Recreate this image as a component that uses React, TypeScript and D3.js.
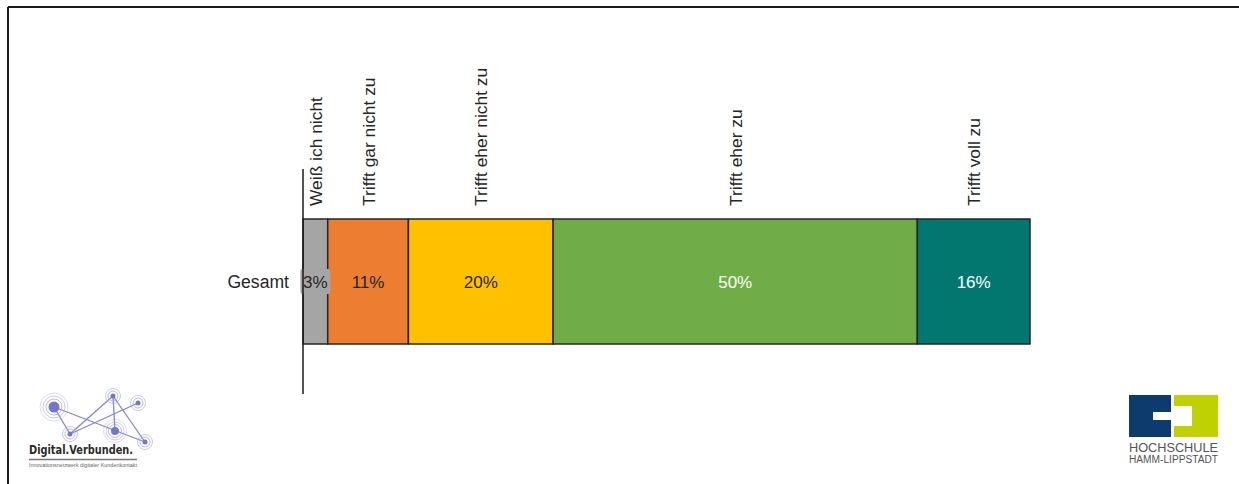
import React from "react";
import * as d3 from "d3";

const categories = ["Gesamt"];
const seriesNames = ["Weiß ich nicht", "Trifft gar nicht zu", "Trifft eher nicht zu", "Trifft eher zu", "Trifft voll zu"];
const seriesValues = [3.4, 11.1, 19.9, 50.1, 15.5];
const seriesColors = ["#A5A5A5", "#ED7D31", "#FFC000", "#70AD47", "#02776F"];
const labelColors = ["#262626", "#262626", "#262626", "#FFFFFF", "#FFFFFF"];

const W = 1239;
const H = 484;
const FONT = "'Liberation Sans', Arial, sans-serif";

function DigitalLogo() {
  const nodes = [
    { x: 54, y: 407, r: 5.5, rings: [8, 11, 14] },
    { x: 113, y: 396, r: 2.5, rings: [5, 7.5] },
    { x: 138, y: 403, r: 2.5, rings: [5, 7.5] },
    { x: 70, y: 434, r: 2.5, rings: [5, 7.5] },
    { x: 115, y: 431, r: 4, rings: [6.5, 9, 11.5] },
    { x: 145, y: 442, r: 2.5, rings: [5, 7.5] },
  ];
  const links = [[0, 5], [0, 3], [3, 1], [1, 5], [1, 4], [3, 2]];
  return (
    <g>
      {links.map(([a, b], i) => (
        <line key={i} x1={nodes[a].x} y1={nodes[a].y} x2={nodes[b].x} y2={nodes[b].y} stroke="#8587CF" strokeWidth={1.3} />
      ))}
      {nodes.map((n, i) => (
        <g key={i}>
          {n.rings.map((rr, j) => (
            <circle key={j} cx={n.x} cy={n.y} r={rr} fill="none" stroke="#A9AADD" strokeWidth={0.9} opacity={0.9 - j * 0.2} />
          ))}
          <circle cx={n.x} cy={n.y} r={n.r} fill="#7476C8" />
        </g>
      ))}
      <text x={29} y={454} fontFamily="'DejaVu Sans', sans-serif" fontWeight="bold" fontSize={12.5} fill="#2b2b2b" textLength={104} lengthAdjust="spacingAndGlyphs">Digital.Verbunden.</text>
      <line x1={29} x2={137} y1={459.5} y2={459.5} stroke="#777" strokeWidth={1.5} />
      <text x={29} y={467} fontFamily={FONT} fontSize={4.6} fill="#666" textLength={108} lengthAdjust="spacingAndGlyphs">Innovationsnetzwerk digitaler Kundenkontakt</text>
    </g>
  );
}

function HshlLogo() {
  return (
    <g>
      <rect x={1129} y={395} width={42} height={42} fill="#0D3B6E" />
      <rect x={1174} y={395} width={44} height={42} fill="#BFD100" />
      <rect x={1153} y={412} width={18} height={8} fill="#fff" />
      <rect x={1174} y={406} width={18} height={20} fill="#fff" />
      <rect x={1171} y={412} width={3} height={8} fill="#fff" />
      <text x={1173.5} y={452} textAnchor="middle" fontFamily={FONT} fontSize={12} fill="#555" textLength={89} lengthAdjust="spacingAndGlyphs">HOCHSCHULE</text>
      <text x={1173.5} y={463} textAnchor="middle" fontFamily={FONT} fontSize={10} fill="#555" textLength={89} lengthAdjust="spacingAndGlyphs">HAMM-LIPPSTADT</text>
    </g>
  );
}

export default function App() {
  const x = d3.scaleLinear().domain([0, 100]).range([303, 1030]);
  const y = d3.scaleBand<string>().domain(categories).range([169, 394]).paddingOuter(0.4).paddingInner(0);

  const stackData = categories.map((c) => {
    const row: Record<string, number | string> = { cat: c };
    seriesNames.forEach((s, i) => (row[s] = seriesValues[i]));
    return row;
  });
  const stack = d3.stack<Record<string, number | string>>().keys(seriesNames)(stackData as any);

  const fmt = (v: number) => `${Math.round(v)}%`;

  return (
    <svg width={W} height={H} style={{ position: "absolute", left: 0, top: 0, background: "#fff" }}>
      <rect x={0} y={0} width={W} height={H} fill="#fff" />
      <line x1={8} x2={W} y1={7} y2={7} stroke="#1a1a1a" strokeWidth={2} />
      <line x1={8} x2={8} y1={7} y2={H} stroke="#1a1a1a" strokeWidth={2} />

      {categories.map((c) => {
        const y0 = y(c)!;
        const bw = y.bandwidth();
        return (
          <g key={c}>
            {stack.map((layer, i) => {
              const d = layer[categories.indexOf(c)];
              const x0 = x(d[0]);
              const x1 = x(d[1]);
              return (
                <rect key={i} x={x0} y={y0} width={x1 - x0} height={bw} fill={seriesColors[i]} stroke="#262626" strokeWidth={1.5} />
              );
            })}
            {stack.map((layer, i) => {
              const d = layer[categories.indexOf(c)];
              const cx = (x(d[0]) + x(d[1])) / 2;
              const label = fmt(seriesValues[i]);
              const narrow = x(d[1]) - x(d[0]) < 30;
              return (
                <g key={"l" + i}>
                  {narrow && (
                    <rect x={cx - 15} y={y0 + bw / 2 - 12.5} width={30} height={25} rx={2} fill={seriesColors[i]} />
                  )}
                  <text x={cx} y={y0 + bw / 2 + 6} textAnchor="middle" fontFamily={FONT} fontSize={17} fill={labelColors[i]}>
                    {label}
                  </text>
                </g>
              );
            })}
            {stack.map((layer, i) => {
              const d = layer[categories.indexOf(c)];
              const cx = (x(d[0]) + x(d[1])) / 2;
              return (
                <text key={"c" + i} transform={`translate(${cx + 6.5},${y0 - 13}) rotate(-90)`} fontFamily={FONT} fontSize={17.4} fill="#262626">
                  {seriesNames[i]}
                </text>
              );
            })}
            <text x={289} y={y0 + bw / 2 + 6} textAnchor="end" fontFamily={FONT} fontSize={17.6} fill="#262626">
              {c}
            </text>
          </g>
        );
      })}
      <line x1={x(0)} x2={x(0)} y1={169} y2={394} stroke="#1a1a1a" strokeWidth={1.5} />

      <DigitalLogo />
      <HshlLogo />
    </svg>
  );
}
